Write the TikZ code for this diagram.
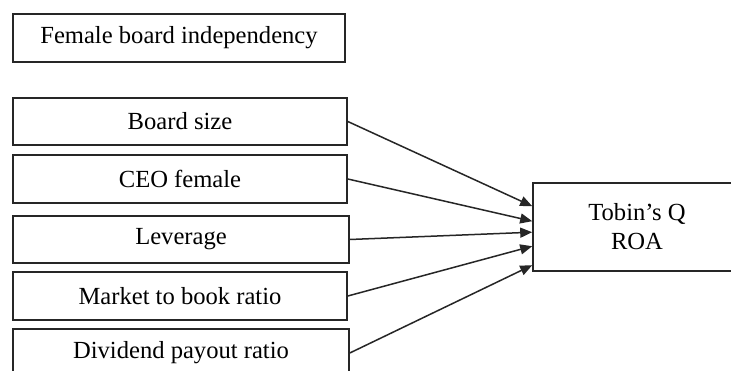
\documentclass[tikz,border=0pt]{standalone}
\usepackage{fontspec}
\setmainfont{Liberation Serif}
\usetikzlibrary{arrows.meta}
\begin{document}
\begin{tikzpicture}[x=1pt,y=-1pt,
  varbox/.style={draw=black!85,line width=1.6pt,rectangle,inner sep=0pt,
    font=\fontsize{24.6}{29}\selectfont,align=center},
  link/.style={draw=black!85,line width=1.5pt,-{Triangle[length=12pt,width=10pt]}}]
  \useasboundingbox (0,0) rectangle (731,371);
  \clip (0,0) rectangle (731,371);
  \fill[white] (0,0) rectangle (731,371);

  % explanatory variables
  \node[varbox,minimum width=332pt,minimum height=48pt] (fbi) at (179,38) {Female board independency};
  \node[varbox,minimum width=334pt,minimum height=47pt] (bs)  at (180,121.5) {Board size};
  \node[varbox,minimum width=334pt,minimum height=48pt] (ceo) at (180,179) {CEO female};
  \node[varbox,minimum width=336pt,minimum height=47pt] (lev) at (181,239.5) {Leverage};
  \node[varbox,minimum width=334pt,minimum height=48pt] (mtb) at (180,296) {Market to book ratio};
  \node[varbox,minimum width=336pt,minimum height=48pt] (dpr) at (181,353) {Dividend payout ratio};

  % performance measures
  \node[varbox,minimum width=208pt,minimum height=88pt] (perf) at (637,227) {Tobin’s Q\\ROA};

  % arrow targets along the left side of the performance box
  \coordinate (p1) at ([yshift=-24pt]perf.north west);
  \coordinate (p2) at ([yshift=-39pt]perf.north west);
  \coordinate (p3) at ([yshift=-50pt]perf.north west);
  \coordinate (p4) at ([yshift=-64pt]perf.north west);
  \coordinate (p5) at ([yshift=-83pt]perf.north west);

  \draw[link] (bs.east)  -- (p1);
  \draw[link] (ceo.east) -- (p2);
  \draw[link] (lev.east) -- (p3);
  \draw[link] (mtb.east) -- (p4);
  \draw[link] (dpr.east) -- (p5);
\end{tikzpicture}
\end{document}
